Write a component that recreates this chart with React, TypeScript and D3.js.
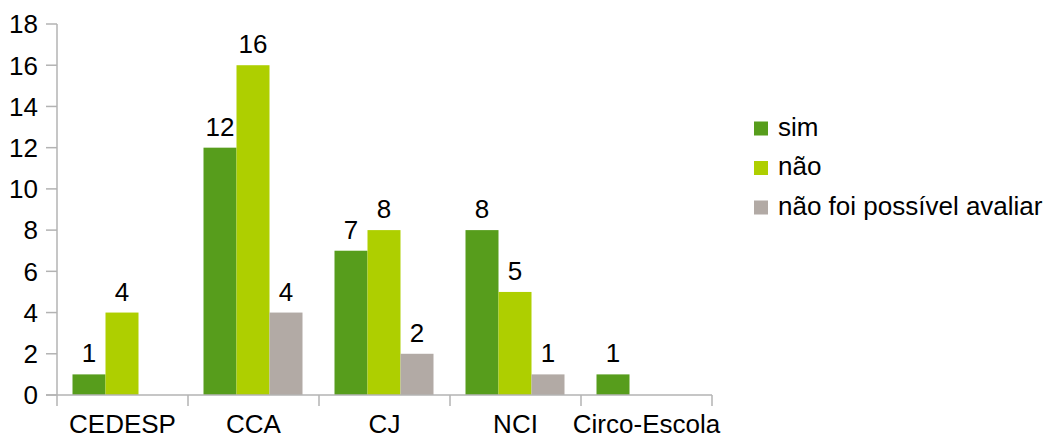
import React from "react";
import * as d3 from "d3";

const categories = ["CEDESP", "CCA", "CJ", "NCI", "Circo-Escola"];
const seriesNames = ["sim", "não", "não foi possível avaliar"];
const sim = [1, 12, 7, 8, 1];
const nao = [4, 16, 8, 5, 0];
const naoAvaliar = [0, 4, 2, 1, 0];
const yTicks = [0, 2, 4, 6, 8, 10, 12, 14, 16, 18];
const colors = ["#579d1c", "#aecf00", "#b2aaa5"];

const W = 1051;
const H = 439;
const FONT = "'Liberation Sans', Arial, sans-serif";

export default function App() {
  const series = [sim, nao, naoAvaliar];
  const y = d3.scaleLinear().domain([0, 18]).range([395, 24]);
  const x = d3.scaleBand<string>().domain(categories).range([57, 712]).paddingInner(0).paddingOuter(0);
  const inner = d3
    .scaleBand<string>()
    .domain(seriesNames)
    .range([15.5, x.bandwidth() - 16.5])
    .paddingInner(0)
    .paddingOuter(0);
  const axisColor = "#b3b3b3";
  const fs = 26;

  return (
    <svg width={W} height={H} style={{ position: "absolute", left: 0, top: 0, display: "block" }}>
      <rect x={0} y={0} width={W} height={H} fill="#fff" />
      {categories.map((c, ci) =>
        series.map((s, si) => {
          const v = s[ci];
          if (!v) return null;
          const bx = (x(c) as number) + (inner(seriesNames[si]) as number);
          return (
            <rect
              key={c + si}
              x={bx}
              y={y(v)}
              width={inner.bandwidth()}
              height={y(0) - y(v)}
              fill={colors[si]}
            />
          );
        })
      )}
      <line x1={57} x2={57} y1={y(18)} y2={y(0)} stroke={axisColor} strokeWidth={1.5} />
      <line x1={46} x2={712} y1={y(0)} y2={y(0)} stroke={axisColor} strokeWidth={1.5} />
      {yTicks.map((t) => (
        <g key={t}>
          <line x1={46} x2={57} y1={y(t)} y2={y(t)} stroke={axisColor} strokeWidth={1.5} />
          <text
            x={38}
            y={y(t)}
            dy="0.36em"
            textAnchor="end"
            fontFamily={FONT}
            fontSize={fs}
            fill="#000"
          >
            {t}
          </text>
        </g>
      ))}
      {[...categories.map((c) => x(c) as number), 712].map((p, i) => (
        <line key={i} x1={p} x2={p} y1={y(0)} y2={406} stroke={axisColor} strokeWidth={1.5} />
      ))}
      {categories.map((c) => (
        <text
          key={c}
          x={(x(c) as number) + x.bandwidth() / 2}
          y={433}
          textAnchor="middle"
          fontFamily={FONT}
          fontSize={fs}
          fill="#000"
        >
          {c}
        </text>
      ))}
      {categories.map((c, ci) =>
        series.map((s, si) => {
          const v = s[ci];
          if (!v) return null;
          const bx = (x(c) as number) + (inner(seriesNames[si]) as number) + inner.bandwidth() / 2;
          return (
            <text
              key={"l" + c + si}
              x={bx}
              y={y(v) - 12}
              textAnchor="middle"
              fontFamily={FONT}
              fontSize={fs}
              fill="#000"
            >
              {v}
            </text>
          );
        })
      )}
      {seriesNames.map((n, i) => (
        <g key={n} transform={`translate(754, ${135.5 + i * 39.5})`}>
          <rect x={0} y={-14} width={14} height={14} fill={colors[i]} />
          <text x={24} y={0} fontFamily={FONT} fontSize={fs} fill="#000">
            {n}
          </text>
        </g>
      ))}
    </svg>
  );
}
